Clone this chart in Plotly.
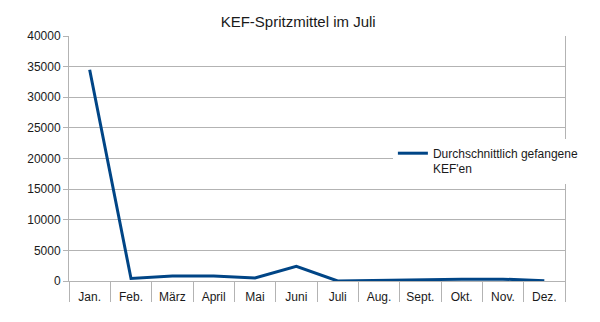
import plotly.graph_objects as go

months = ["Jan.", "Feb.", "März", "April", "Mai", "Juni", "Juli", "Aug.", "Sept.", "Okt.", "Nov.", "Dez."]
avg_kef = [34500, 400, 800, 800, 500, 2400, 0, 100, 300, 300, 300, 50]
series_name = "Durchschnittlich gefangene<br>KEF'en"
title_text = "KEF-Spritzmittel im Juli"
y_ticks = [0, 5000, 10000, 15000, 20000, 25000, 30000, 35000, 40000]

GRID = "#b3b3b3"
FONT = "Liberation Sans, Arial, sans-serif"

fig = go.Figure()
fig.add_trace(go.Scatter(
    x=months, y=avg_kef, mode="lines", name=series_name,
    line=dict(color="#004586", width=3),
    showlegend=True,
))

fig.update_layout(
    width=600, height=322,
    margin=dict(l=69, r=35, t=36, b=41),
    paper_bgcolor="white", plot_bgcolor="white",
    font=dict(family=FONT, size=12, color="#1a1a1a"),
    title=dict(text=title_text, x=0.497, xanchor="center", y=0.932, yanchor="middle",
               font=dict(family=FONT, size=15, color="#1a1a1a")),
    showlegend=True,
    legend=dict(x=0.653, xanchor="left", y=0.58, yanchor="top",
                bgcolor="white", borderwidth=0, valign="top",
                font=dict(family=FONT, size=12, color="#1a1a1a"),
                itemwidth=30, tracegroupgap=0),
)
fig.update_xaxes(
    type="category", range=[-0.5, 11.5],
    tickson="boundaries", ticks="outside", ticklen=20, tickcolor=GRID, tickwidth=1,
    showgrid=False, showline=True, linecolor=GRID, linewidth=1,
    ticklabelstandoff=5,
    tickfont=dict(family=FONT, size=12, color="#1a1a1a"),
)
fig.update_yaxes(
    range=[0, 40000], tickvals=y_ticks, ticktext=[str(v) for v in y_ticks],
    showgrid=True, gridcolor=GRID, gridwidth=1, zeroline=False,
    showline=True, linecolor=GRID, linewidth=1, mirror=True,
    ticks="outside", ticklen=5, tickcolor=GRID,
    tickfont=dict(family=FONT, size=12, color="#1a1a1a"),
)

fig.write_html("out.html")
